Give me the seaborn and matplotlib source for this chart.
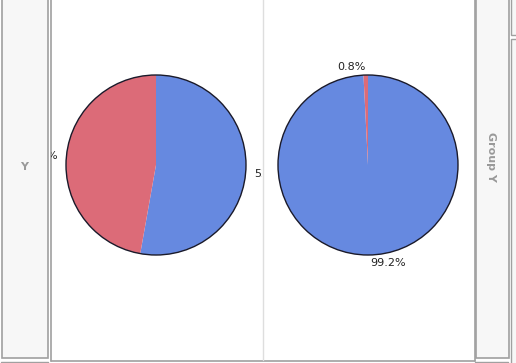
import matplotlib
matplotlib.use("Agg")
import matplotlib.pyplot as plt
from matplotlib.patches import Rectangle, Circle
import seaborn as sns
import numpy as np

sns.set_theme(style="white")
plt.rcParams['font.family'] = ['DejaVu Sans']

# ---- data ----
groups = ["A", "B"]
categories = ["Blue", "Red"]
values_left = [52.8, 47.2]
values_right = [99.2, 0.8]
slice_colors = ["#6689e0", "#dc6b78"]
strip_left_label = "Y"
strip_right_label = "Group Y"

W, H = 516, 363
fig = plt.figure(figsize=(W / 100, H / 100), dpi=100)
fig.patch.set_facecolor("white")


def fx(x):
    return x / W


def fy(y):
    return 1 - y / H


# background overlay axes in pixel coordinates (for frames / strips)
bg = fig.add_axes([0, 0, 1, 1])
bg.set_xlim(0, W)
bg.set_ylim(H, 0)
bg.axis("off")

border = "#a0a0a0"
strip_bg = "#f7f7f7"
# left strip
bg.add_patch(Rectangle((1.5, -2), 46.5, 359.5, facecolor=strip_bg, edgecolor=border, lw=1.2))
bg.plot([1, 48], [361.5, 361.5], color=border, lw=1)
bg.text(24.5, 167, strip_left_label, ha="center", va="center", color="#999999",
        fontsize=8, fontweight="bold")
# right strip
bg.add_patch(Rectangle((475.5, -2), 33, 360, facecolor=strip_bg, edgecolor=border, lw=1.2))
bg.plot([475, 508], [361.5, 361.5], color=border, lw=1)
bg.text(491.5, 157, strip_right_label, ha="center", va="center", color="#999999",
        fontsize=8, fontweight="bold", rotation=270)
# small boxes at far right
bg.add_patch(Rectangle((510.5, -2), 8, 37, facecolor=strip_bg, edgecolor=border, lw=1))
bg.add_patch(Rectangle((510.5, 39), 8, 400, facecolor=strip_bg, edgecolor=border, lw=1))
# main frame
bg.plot([50.5, 50.5], [-2, 360.5], color=border, lw=1.2)
bg.plot([50.5, 474.5], [360.5, 360.5], color=border, lw=1.2)
bg.plot([474.5, 474.5], [-2, 360.5], color=border, lw=1.2)
bg.plot([262.5, 262.5], [-2, 360], color="#dedede", lw=1)


def draw_pie(x0, x1, cx, cy, values):
    ax = fig.add_axes([fx(x0), fy(360), fx(x1) - fx(x0), fy(0) - fy(360)])
    cyu = H - cy
    wedges, texts, autotexts = ax.pie(
        values, colors=slice_colors, startangle=90, counterclock=False,
        center=(cx, cyu), radius=90, autopct="%.1f%%", pctdistance=1.09,
        wedgeprops=dict(linewidth=0), textprops=dict(fontsize=8, color="#222222"))
    ax.add_patch(Circle((cx, cyu), 90, fill=False, edgecolor="#1a1a2a", lw=1.0))
    ax.set_aspect("auto")
    ax.set_xlim(x0, x1)
    ax.set_ylim(H - 360, H)
    ax.set_facecolor("none")
    for t in autotexts:
        x, y = t.get_position()
        t.set_ha("left" if x >= cx else "right")
        t.set_va("center")
        t.set_clip_box(ax.bbox)
        t.set_clip_on(True)
    return ax


draw_pie(51, 262, 156, 165, values_left)
draw_pie(263, 474, 368, 165, values_right)

fig.savefig("out.png", dpi=100, facecolor="white")
